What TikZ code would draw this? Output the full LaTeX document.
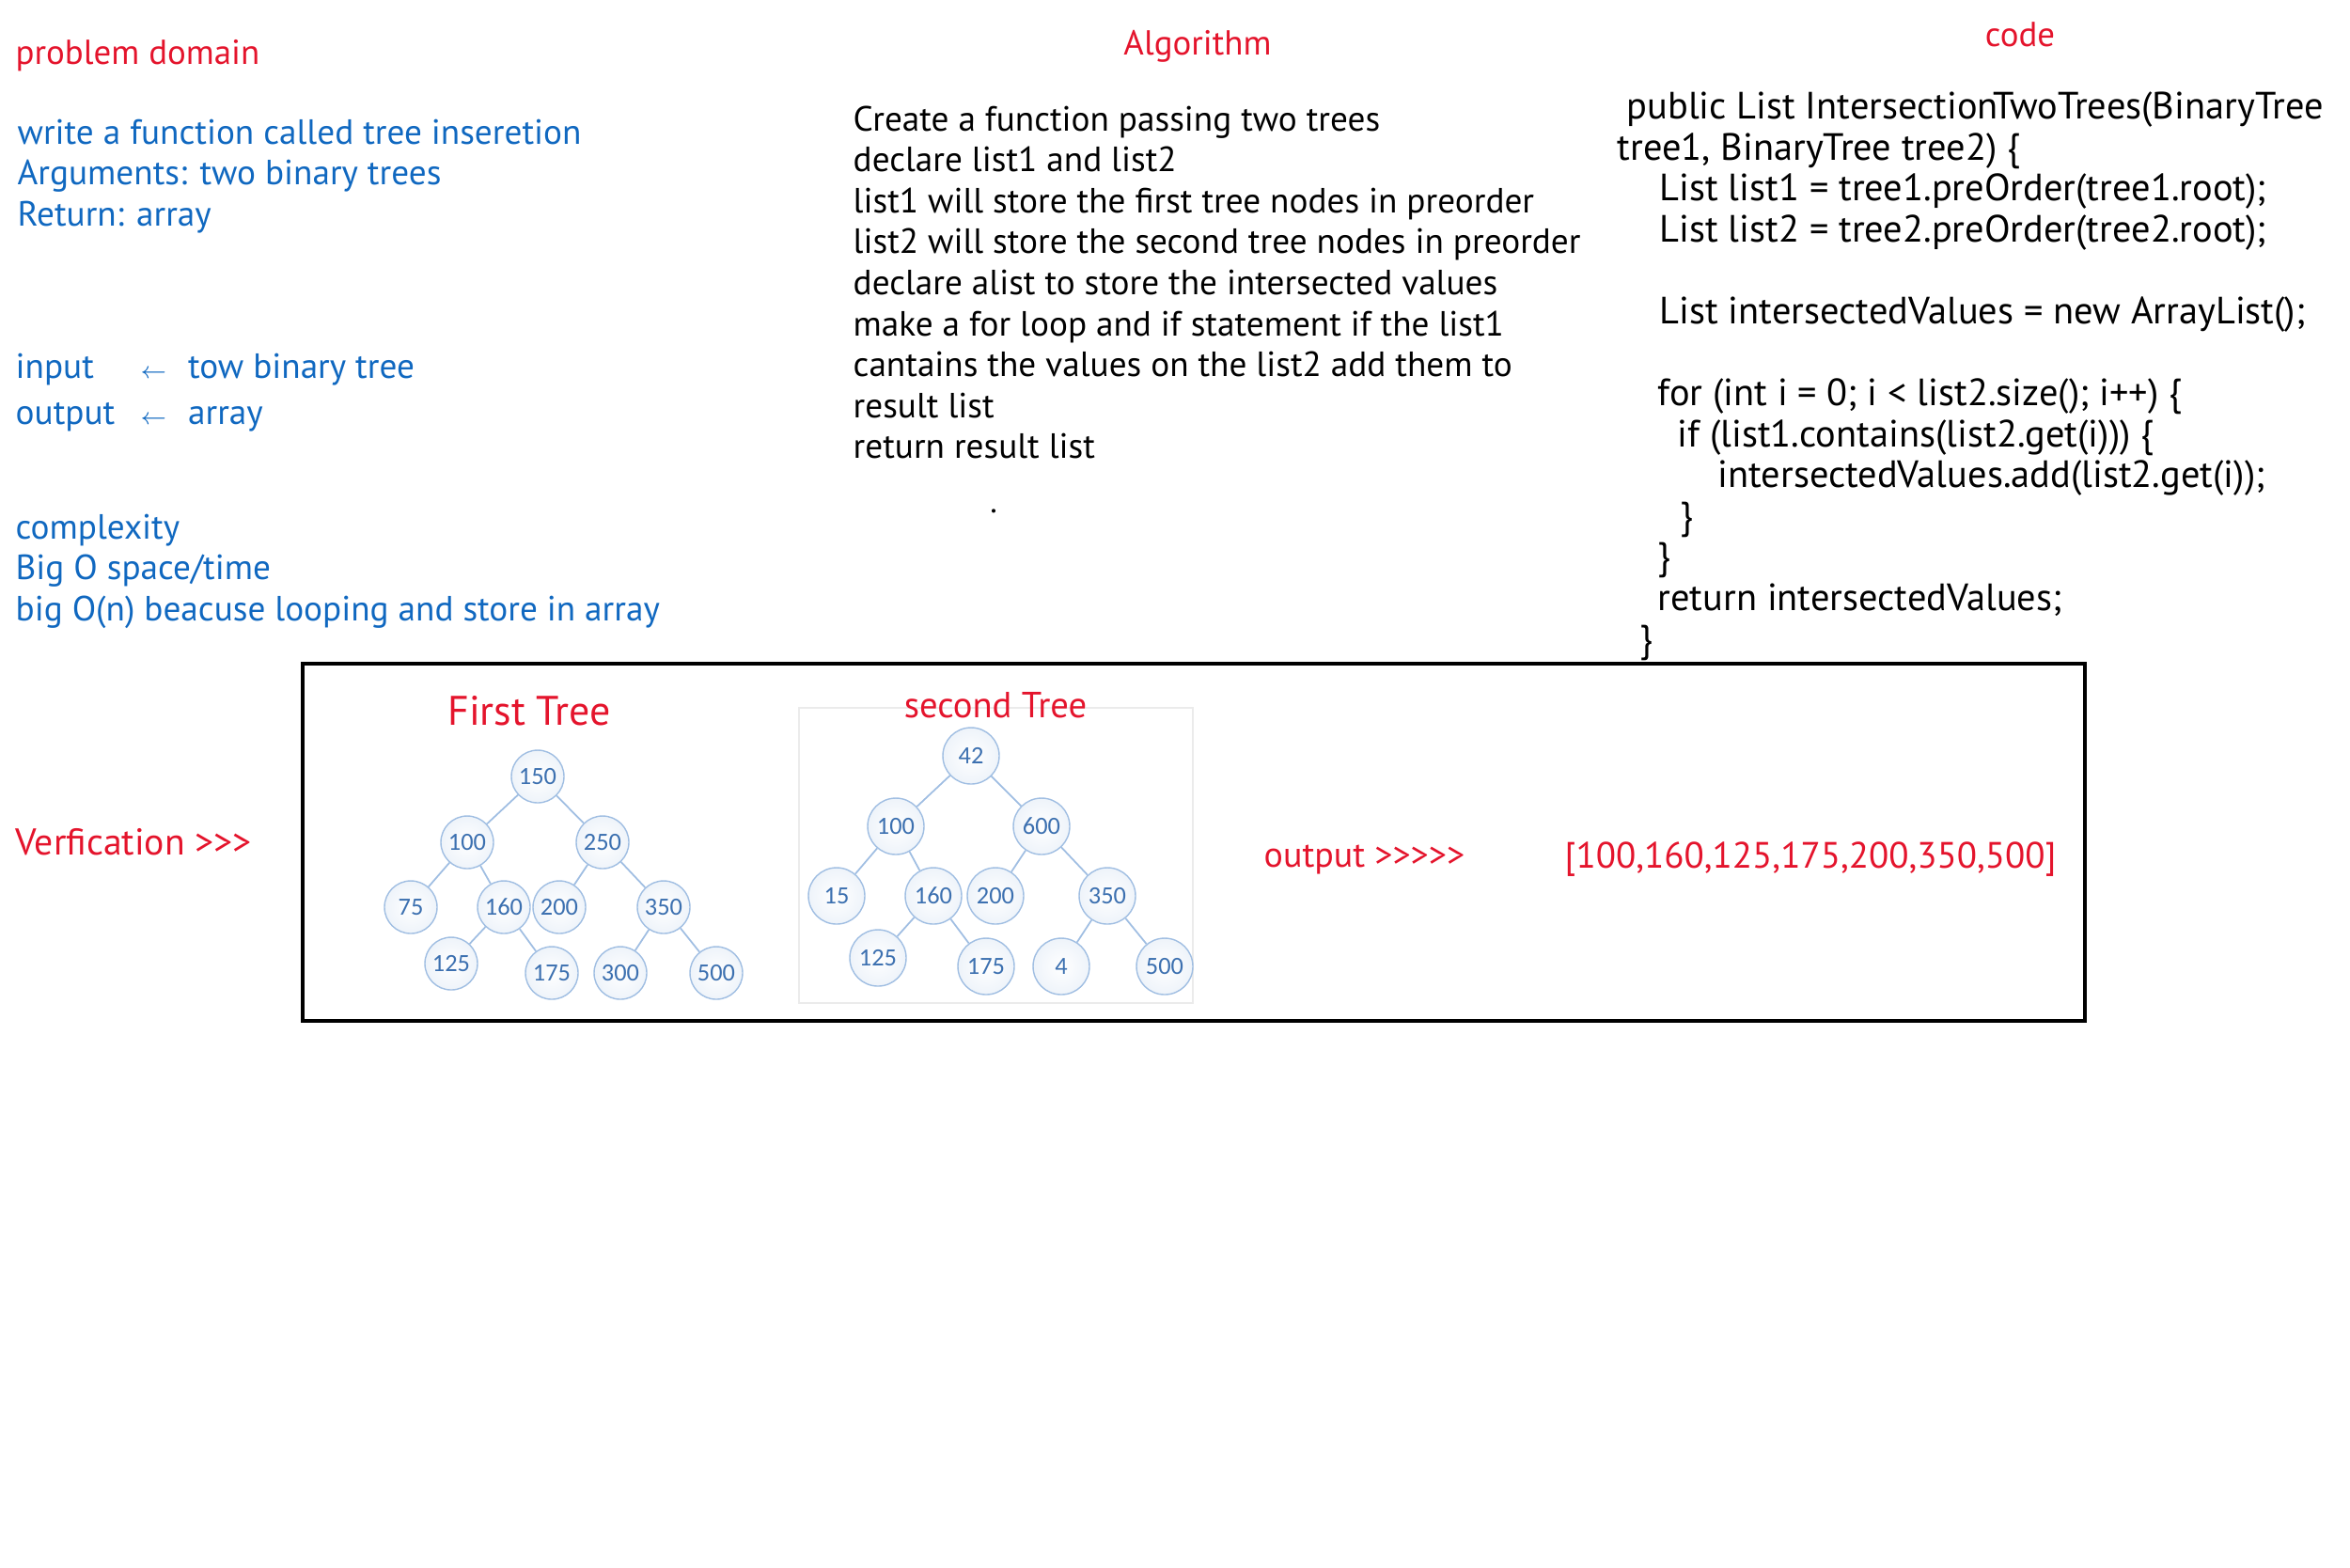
\documentclass[tikz,border=0pt]{standalone}
\usepackage{fontspec}
\setmainfont{PT Sans}
\newfontfamily\numfont{Carlito}
\usetikzlibrary{positioning}
\definecolor{inkred}{RGB}{228,20,44}
\definecolor{inkblue}{RGB}{16,104,192}
\definecolor{numblue}{RGB}{60,112,176}
\definecolor{rimblue}{RGB}{160,190,226}
\tikzset{
	note/.style={
		anchor=north west,
		align=left,
		inner sep=0pt,
		font=\fontsize{10.6}{12.4}\selectfont,
	},
	heading/.style={
		text=inkred,
		inner sep=0pt,
		font=\fontsize{10.5}{12}\selectfont,
	},
	treenode/.style={
		circle,
		draw=rimblue,
		inner color=white, outer color=rimblue!18,
		minimum size=5.6mm,
		inner sep=0pt,
		text=numblue,
		font=\numfont\fontsize{7.5}{8}\selectfont,
	},
	branch/.style={
		draw=rimblue, line width=0.5pt,
		double=white, double distance=1.1pt,
	},
}

\begin{document}
\begin{tikzpicture}
\useasboundingbox (0,0) rectangle (25,-16.67);

% problem domain
\node	(domain)	[heading, anchor=west]	at (0.16,-0.59)	{problem domain};
\node	(task)	[note, text=inkblue]	at (0.18,-1.26)	{write a function called tree inseretion\\Arguments: two binary trees\\Return: array};
\node	(io)	[note, text=inkblue]	at (0.16,-3.71)	{\begin{tabular}{@{}l@{\hspace{7.7pt}}l@{\hspace{6.5pt}}l@{}}
input & $\scriptstyle\leftarrow$ & tow binary tree\\[1.6pt]
output & $\scriptstyle\leftarrow$ & array
\end{tabular}};
\node	(cost)	[note, text=inkblue]	at (0.16,-5.46)	{complexity\\Big O space/time\\big O(n) beacuse looping and store in array};

% algorithm
\node	(algo)	[heading]	at (12.74,-0.49)	{Algorithm};
\node	(steps)	[note]	at (9.07,-1.12)	{Create a function passing two trees\\
declare list1 and list2\\
list1 will store the first tree nodes in preorder\\
list2 will store the second tree nodes in preorder\\
declare alist to store the intersected values\\
make a for loop and if statement if the list1\\
cantains the values on the list2 add them to\\
result list\\
return result list};
\node	(dot)	[anchor=base, inner sep=0pt]	at (10.57,-5.45)	{.};

% code
\node	(codehead)	[heading]	at (21.49,-0.37)	{code};
\node	(code)	[note, font=\fontsize{11.5}{12.4}\selectfont]	at (17.20,-0.97)	{\hspace*{2.8pt}public List IntersectionTwoTrees(BinaryTree\\
tree1, BinaryTree tree2) \{\\
\hspace*{12.8pt}List list1 = tree1.preOrder(tree1.root);\\
\hspace*{12.8pt}List list2 = tree2.preOrder(tree2.root);\\[12.4pt]
\hspace*{12.8pt}List intersectedValues = new ArrayList();\\[12.4pt]
\hspace*{12.2pt}for (int i = 0; i < list2.size(); i++) \{\\
\hspace*{18.2pt}if (list1.contains(list2.get(i))) \{\\
\hspace*{30.4pt}intersectedValues.add(list2.get(i));\\
\hspace*{19pt}\}\\
\hspace*{12.2pt}\}\\
\hspace*{12.2pt}return intersectedValues;\\
\hspace*{6.8pt}\}};

% verification
\node	(verify)	[heading, anchor=west, font=\fontsize{11.3}{12}\selectfont]	at (0.16,-8.96)	{Verfication >{}>{}>};
\draw[very thick] (3.22,-7.06) rectangle (22.18,-10.86);
\draw[black!8] (8.50,-7.53) rectangle (12.69,-10.67);
\node	(firsttitle)	[heading, font=\fontsize{12.5}{14}\selectfont]	at (5.63,-7.56)	{First Tree};
\node	(secondtitle)	[heading, font=\fontsize{11}{13}\selectfont]	at (10.59,-7.50)	{second Tree};
\node	(outlabel)	[heading, anchor=west, font=\fontsize{10.8}{12}\selectfont]	at (13.44,-9.14)	{output >{}>{}>{}>{}>};
\node	(result)	[heading, anchor=west, font=\fontsize{11.1}{13}\selectfont]	at (16.64,-9.14)	{[100,160,125,175,200,350,500]};

% first tree
\node	(a150)	[treenode]	at (5.72,-8.26)	{150};
\node	(a100)	[treenode]	at (4.97,-8.96)	{100};
\node	(a250)	[treenode]	at (6.41,-8.96)	{250};
\node	(a75)	[treenode]	at (4.37,-9.65)	{75};
\node	(a160)	[treenode]	at (5.36,-9.65)	{160};
\node	(a200)	[treenode]	at (5.95,-9.65)	{200};
\node	(a350)	[treenode]	at (7.06,-9.65)	{350};
\node	(a125)	[treenode]	at (4.80,-10.25)	{125};
\node	(a175)	[treenode]	at (5.87,-10.35)	{175};
\node	(a300)	[treenode]	at (6.60,-10.35)	{300};
\node	(a500)	[treenode]	at (7.62,-10.35)	{500};

\path[branch] (a150) edge (a100) edge (a250);
\path[branch] (a100) edge (a75) edge (a160);
\path[branch] (a250) edge (a200) edge (a350);
\path[branch] (a160) edge (a125) edge (a175);
\path[branch] (a350) edge (a300) edge (a500);

% second tree
\node	(b42)	[treenode, minimum size=6mm]	at (10.33,-8.04)	{42};
\node	(b100)	[treenode, minimum size=6mm]	at (9.53,-8.79)	{100};
\node	(b600)	[treenode, minimum size=6mm]	at (11.08,-8.79)	{600};
\node	(b15)	[treenode, minimum size=6mm]	at (8.90,-9.53)	{15};
\node	(b160)	[treenode, minimum size=6mm]	at (9.93,-9.53)	{160};
\node	(b200)	[treenode, minimum size=6mm]	at (10.59,-9.53)	{200};
\node	(b350)	[treenode, minimum size=6mm]	at (11.78,-9.53)	{350};
\node	(b125)	[treenode, minimum size=6mm]	at (9.34,-10.19)	{125};
\node	(b175)	[treenode, minimum size=6mm]	at (10.49,-10.28)	{175};
\node	(b4)	[treenode, minimum size=6mm]	at (11.29,-10.28)	{4};
\node	(b500)	[treenode, minimum size=6mm]	at (12.39,-10.28)	{500};

\path[branch] (b42) edge (b100) edge (b600);
\path[branch] (b100) edge (b15) edge (b160);
\path[branch] (b600) edge (b200) edge (b350);
\path[branch] (b160) edge (b125) edge (b175);
\path[branch] (b350) edge (b4) edge (b500);

\end{tikzpicture}
\end{document}
